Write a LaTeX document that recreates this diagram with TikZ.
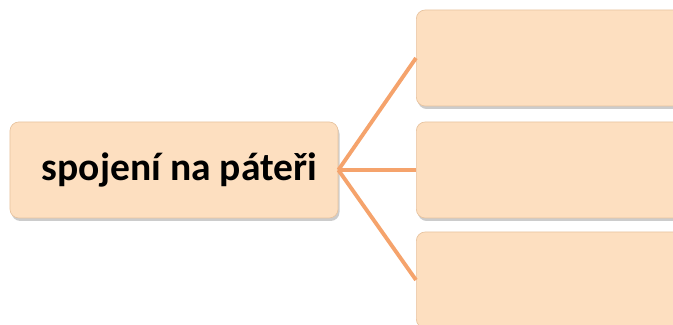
\documentclass[tikz,border=0pt]{standalone}
\usepackage{fontspec}
\setmainfont{Carlito}
\usetikzlibrary{shadows}
\definecolor{boxfill}{HTML}{FDDFC0}
\definecolor{boxline}{HTML}{E8C4A0}
\definecolor{linkline}{HTML}{F5A36C}
\tikzset{
  itembox/.style={rectangle, rounded corners=5pt, draw=boxline, fill=boxfill,
    minimum width=6.56cm, minimum height=1.92cm,
    drop shadow={shadow xshift=0.03cm, shadow yshift=-0.06cm, opacity=0.4}},
  link/.style={draw=linkline, line width=2.2pt}
}
\begin{document}
\begin{tikzpicture}
  \useasboundingbox (0,0) rectangle (13.46,6.5);
  \clip (0,0) rectangle (13.46,6.5);
  % Nodes
  \node (main) [itembox] at (3.48, 3.1)
    {\hspace*{0.22cm}\raisebox{-0.09cm}{\fontsize{22.5}{26}\selectfont\bfseries spojení na páteři}};
  \node (top) [itembox, minimum width=5.68cm, anchor=west] at (8.32, 5.34) {};
  \node (mid) [itembox, minimum width=5.68cm, anchor=west] at (8.32, 3.1) {};
  \node (bot) [itembox, minimum width=5.68cm, anchor=west] at (8.32, 0.9) {};
  % Lines
  \draw[link] (main.east) -- (top.west);
  \draw[link] (main.east) -- (mid.west);
  \draw[link] (main.east) -- (bot.west);
\end{tikzpicture}
\end{document}
